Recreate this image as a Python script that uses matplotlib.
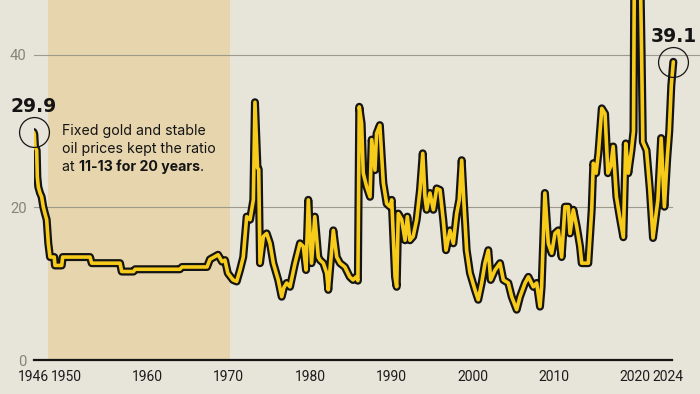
import matplotlib
matplotlib.use("Agg")
import matplotlib.pyplot as plt
import matplotlib.patheffects as pe

# ---- data (gold / oil ratio) ----
years = [
    1946.00, 1946.10, 1946.18, 1946.39, 1946.47, 1946.59, 1946.80, 1947.00, 1947.20, 1947.41,
    1947.62, 1947.82, 1948.03, 1948.55, 1948.64, 1949.47, 1949.59, 1952.95, 1953.16, 1956.64,
    1956.85, 1958.30, 1958.50, 1964.00, 1964.27, 1967.34, 1967.70, 1968.70, 1969.19, 1969.55,
    1969.90, 1970.54, 1970.99, 1971.40, 1971.80, 1972.22, 1972.63, 1973.04, 1973.24, 1973.55,
    1973.70, 1973.86, 1974.27, 1974.68, 1975.09, 1975.50, 1976.10, 1976.53, 1976.80, 1977.14,
    1977.55, 1978.17, 1978.78, 1979.19, 1979.52, 1979.80, 1980.20, 1980.60, 1981.03, 1981.24,
    1981.65, 1982.06, 1982.26, 1982.88, 1983.30, 1983.70, 1984.30, 1984.90, 1985.30, 1985.67,
    1985.90, 1986.07, 1986.36, 1986.56, 1986.98, 1987.39, 1987.60, 1988.00, 1988.20, 1988.60,
    1989.03, 1989.44, 1989.85, 1990.06, 1990.47, 1990.67, 1990.87, 1991.29, 1991.70, 1991.98,
    1992.30, 1992.70, 1993.13, 1993.54, 1993.88, 1994.15, 1994.36, 1994.77, 1995.18, 1995.59,
    1996.00, 1996.40, 1996.74, 1997.23, 1997.64, 1998.05, 1998.37, 1998.67, 1998.95, 1999.28,
    1999.69, 2000.30, 2000.70, 2001.13, 2001.53, 2001.94, 2002.24, 2002.77, 2003.38, 2003.79,
    2004.40, 2004.82, 2005.43, 2005.84, 2006.46, 2006.87, 2007.48, 2007.89, 2008.30, 2008.50,
    2008.90, 2009.32, 2009.74, 2010.14, 2010.55, 2010.96, 2011.37, 2011.78, 2011.99, 2012.40,
    2012.82, 2013.22, 2013.43, 2014.24, 2014.66, 2014.86, 2015.20, 2015.48, 2015.90, 2016.30,
    2016.65, 2017.00, 2017.30, 2017.70, 2018.10, 2018.55, 2018.85, 2019.16, 2019.55, 2019.80,
    2019.95, 2020.15, 2020.30, 2020.50, 2020.80, 2020.95, 2021.40, 2021.80, 2022.20, 2022.80,
    2023.20, 2023.60, 2023.95, 2024.20, 2024.45, 2024.70,
]
ratio = [
    29.9, 29.6, 28.0, 27.5, 24.0, 22.7, 21.9, 21.4, 20.1, 19.2,
    18.4, 15.3, 13.5, 13.5, 12.4, 12.4, 13.5, 13.5, 12.7, 12.7,
    11.6, 11.6, 11.9, 11.9, 12.2, 12.2, 13.2, 13.8, 12.9, 13.1,
    11.4, 10.5, 10.3, 11.8, 13.5, 18.8, 18.4, 21.0, 33.8, 25.2,
    25.0, 12.7, 16.2, 16.6, 15.3, 12.7, 10.5, 8.3, 9.5, 10.1,
    9.6, 12.7, 15.3, 14.9, 11.8, 21.0, 12.7, 18.8, 13.5, 13.1,
    12.7, 11.4, 9.2, 17.0, 13.5, 12.7, 12.2, 10.9, 10.5, 10.9,
    10.4, 33.2, 31.0, 24.5, 22.7, 21.4, 28.9, 24.9, 29.7, 30.8,
    23.2, 20.5, 20.1, 21.0, 10.9, 9.6, 19.2, 18.4, 15.7, 18.8,
    15.7, 16.2, 18.4, 22.3, 27.1, 21.4, 19.7, 21.9, 19.7, 22.5,
    22.3, 18.4, 14.4, 17.0, 15.3, 19.2, 21.0, 26.2, 20.5, 14.4,
    11.4, 9.2, 7.9, 10.1, 12.7, 14.4, 10.5, 11.8, 12.7, 10.5,
    10.1, 8.3, 6.6, 8.3, 10.1, 10.9, 9.6, 10.1, 7.0, 9.6,
    21.9, 15.3, 14.0, 16.6, 17.0, 13.5, 20.1, 20.1, 16.6, 19.7,
    17.5, 14.9, 12.7, 12.7, 19.7, 25.8, 24.5, 27.1, 33.0, 32.3,
    24.5, 25.4, 28.0, 21.4, 18.8, 16.1, 28.4, 24.5, 27.5, 30.0,
    60.0, 52.0, 100.0, 60.0, 40.0, 28.6, 27.5, 22.5, 16.0, 21.0,
    29.1, 20.1, 26.5, 30.0, 36.0, 39.1,
]
x_ticks = [1946, 1950, 1960, 1970, 1980, 1990, 2000, 2010, 2020, 2024]
y_ticks = [0, 20, 40]
band_start, band_end = 1947.8, 1970.2
start_label = "29.9"
end_label = "39.1"
note_lines = ["Fixed gold and stable", "oil prices kept the ratio"]
note_last = ["at ", "11-13 for 20 years", "."]

# ---- style ----
BG = "#e7e4da"
BAND = "#e6d5ad"
YELLOW = "#f6cb1a"
INK = "#141414"
GRID = "#9d998d"
YLAB = "#86837a"
BODY_FONT = ["Inter", "DejaVu Sans"]
TICK_FONT = ["Roboto", "DejaVu Sans"]

fig = plt.figure(figsize=(7.0, 3.94), dpi=100)
fig.patch.set_facecolor(BG)
ax = fig.add_axes([33.5 / 700, 34 / 394, 1 - 33.5 / 700, 360 / 394])
ax.set_facecolor(BG)
xmax = 2027.98
ax.set_xlim(1946, xmax)
ax.set_ylim(0, 47.21)

ax.axvspan(band_start, band_end, color=BAND, lw=0, zorder=0)

axis_end = 2024.58
ax.axhline(20, xmin=0, xmax=(axis_end - 1946) / (xmax - 1946), color=GRID, lw=0.8, zorder=1)
ax.axhline(40, xmin=0, xmax=1, color=GRID, lw=0.8, zorder=1)

ax.plot(years, ratio, color=YELLOW, lw=2.6, solid_joinstyle="round", solid_capstyle="round",
        path_effects=[pe.Stroke(linewidth=5.8, foreground=INK), pe.Normal()], zorder=3)

for xv, yv, lab in [(years[0], ratio[0], start_label), (years[-1], ratio[-1], end_label)]:
    ax.plot([xv], [yv], "o", ms=21.5, mfc="none", mec=INK, mew=0.9, zorder=4, clip_on=False)
    ax.annotate(lab, (xv, yv), xytext=(0, 18.5), textcoords="offset points",
                ha="center", va="center", fontsize=13.5, fontweight="bold",
                family="DejaVu Sans", color=INK, zorder=5, annotation_clip=False)

# note text
note_x = 1949.5
FS = 10.2
ax.text(note_x, 29.47, note_lines[0], fontsize=FS, family=BODY_FONT, color=INK, va="baseline", ha="left", zorder=5)
ax.text(note_x, 27.1, note_lines[1], fontsize=FS, family=BODY_FONT, color=INK, va="baseline", ha="left", zorder=5)
t1 = ax.text(note_x, 24.75, note_last[0], fontsize=FS, family=BODY_FONT, color=INK, va="baseline", ha="left", zorder=5)
t2 = ax.annotate(note_last[1], xy=(1, 0), xycoords=t1, xytext=(0, 0), textcoords="offset points",
                 fontsize=FS, family=BODY_FONT, fontweight="bold", color=INK, va="bottom", ha="left")
ax.annotate(note_last[2], xy=(1, 0), xycoords=t2, xytext=(0, 0), textcoords="offset points",
            fontsize=FS, family=BODY_FONT, color=INK, va="bottom", ha="left")

# axes
for s in ["top", "right", "left"]:
    ax.spines[s].set_visible(False)
ax.spines["bottom"].set_bounds(1946, axis_end)
ax.spines["bottom"].set_linewidth(1.6)
ax.spines["bottom"].set_color(INK)
ax.spines["bottom"].set_zorder(2)

ax.set_xticks(x_ticks)
ax.set_xticklabels([str(v) for v in x_ticks], family=TICK_FONT)
ax.tick_params(axis="x", length=0, pad=7.5, labelsize=10.0, labelcolor="#1c1c1c")
ax.set_yticks(y_ticks)
ax.set_yticklabels([str(v) for v in y_ticks], family=TICK_FONT)
ax.tick_params(axis="y", length=0, pad=5, labelsize=10.6, labelcolor=YLAB)

fig.savefig("out.png", dpi=100, facecolor=BG)
